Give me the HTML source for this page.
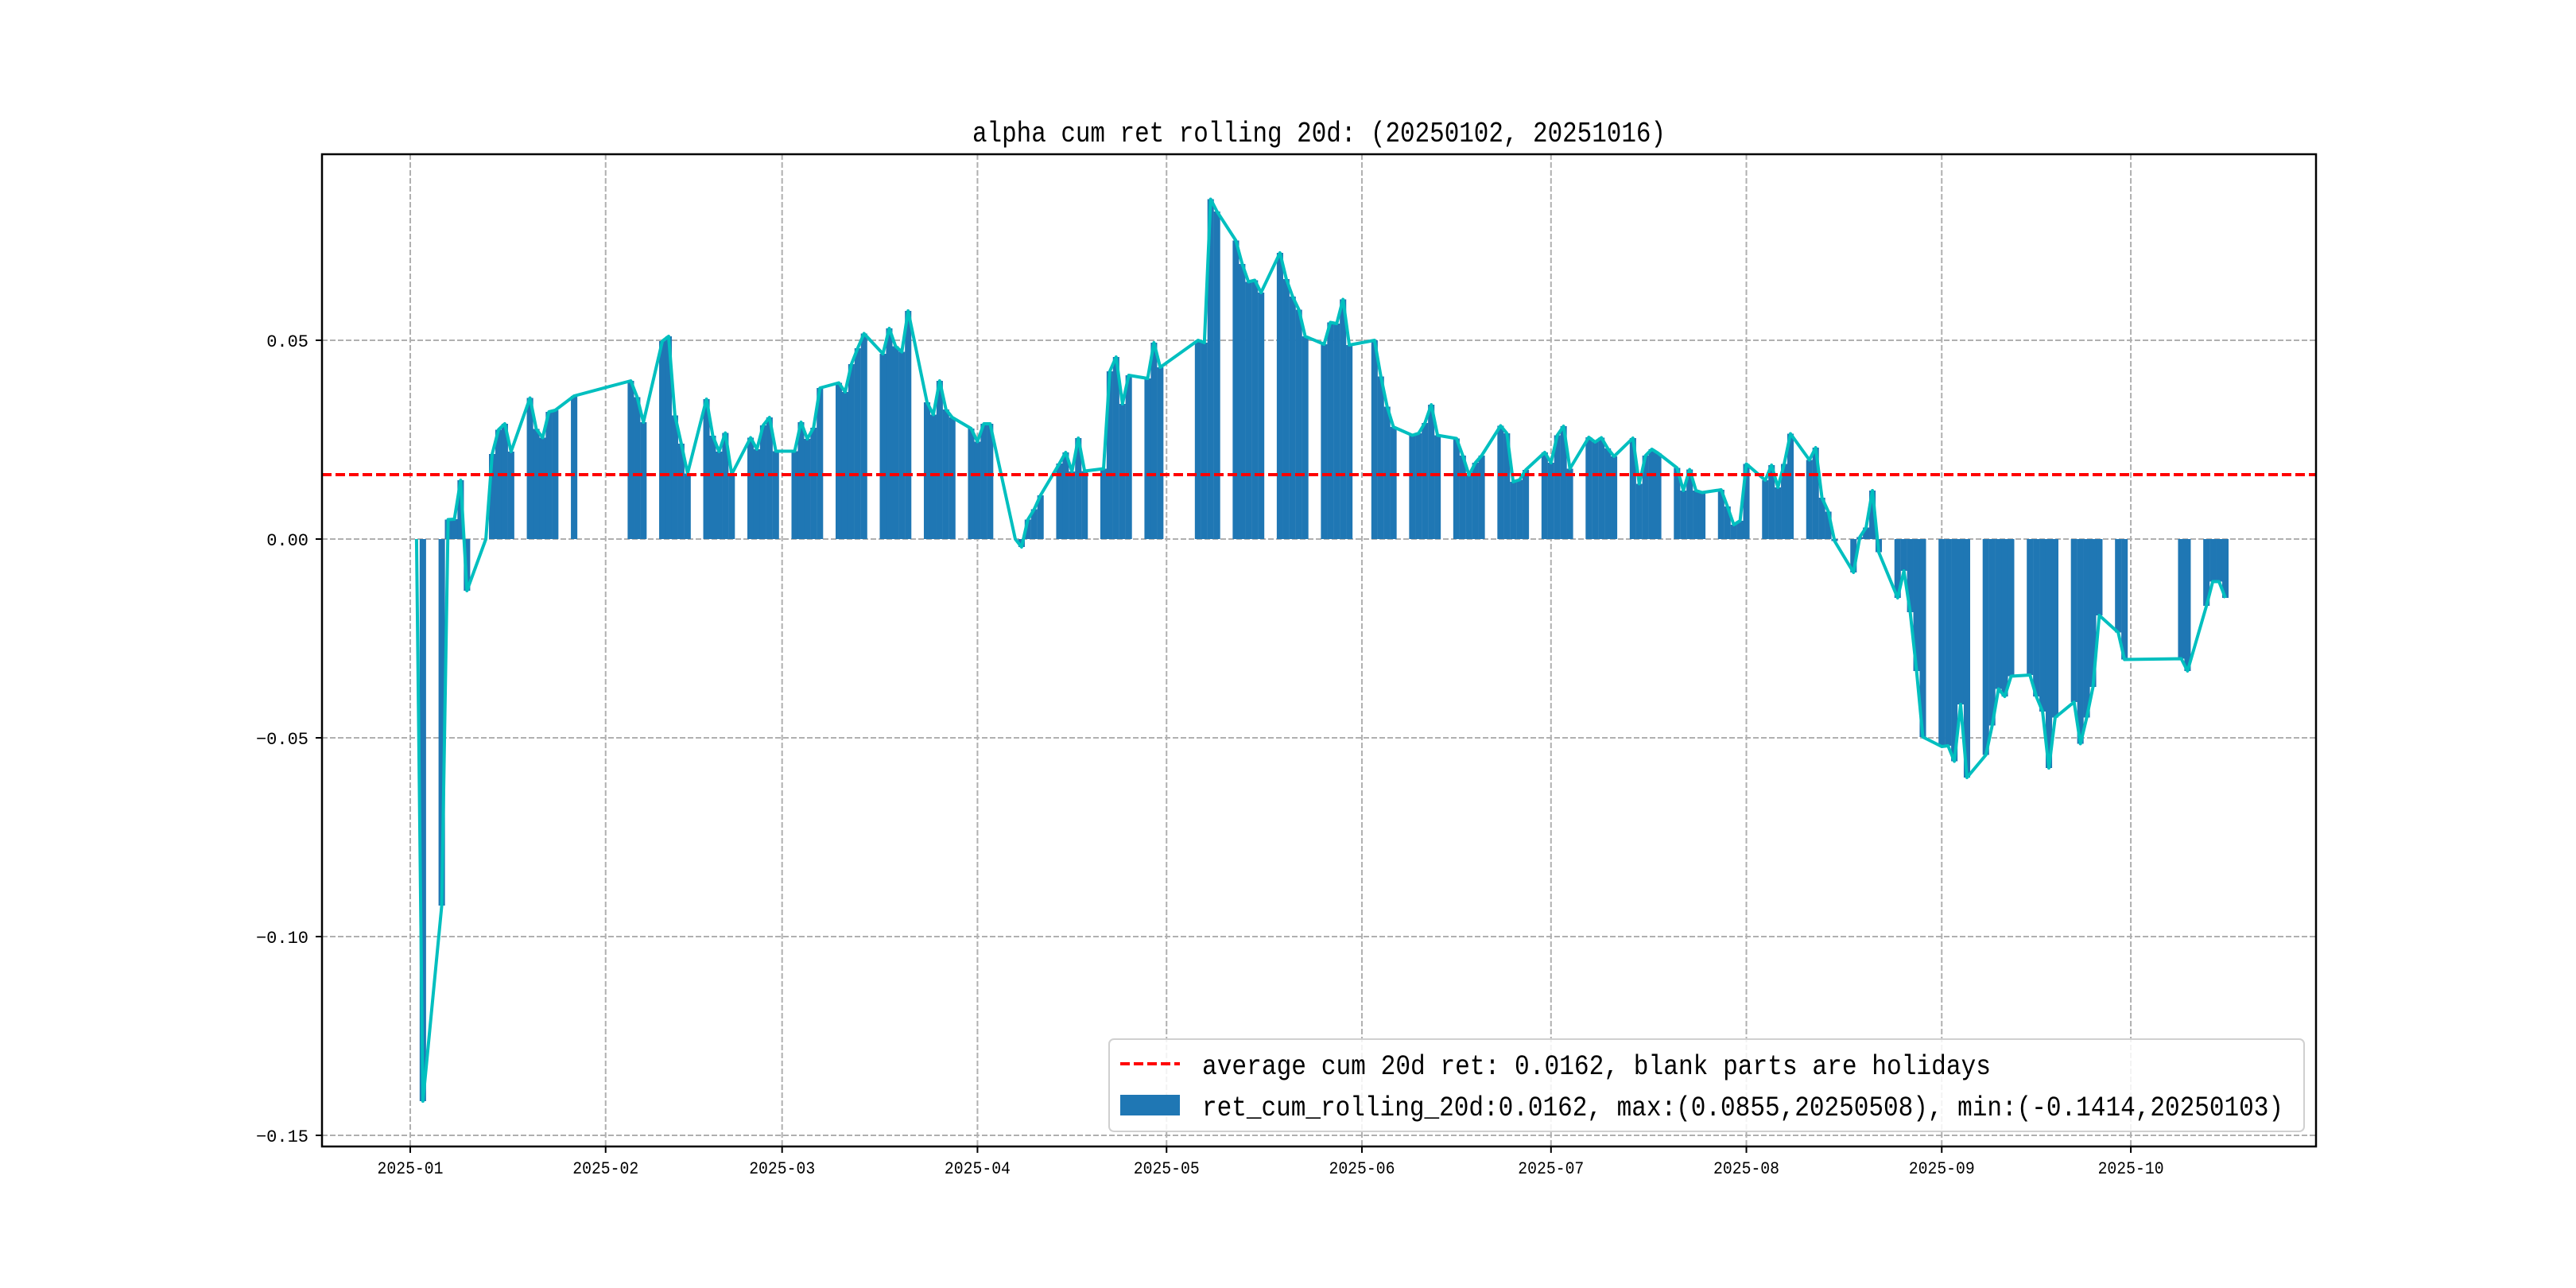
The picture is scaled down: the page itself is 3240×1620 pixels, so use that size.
<!DOCTYPE html>
<html><head><meta charset="utf-8">
<style>
html,body{margin:0;padding:0;background:#fff;}
svg{display:block;}
text{font-family:"Liberation Mono","WenQuanYi Zen Hei",monospace;fill:#000;}
</style></head>
<body>
<svg id="chart" width="3240" height="1620" viewBox="0 0 3240 1620" xmlns="http://www.w3.org/2000/svg">
<rect x="0" y="0" width="3240" height="1620" fill="#fff"/>
<text x="1659" y="178" text-anchor="middle" font-size="36" textLength="872" lengthAdjust="spacingAndGlyphs">alpha cum ret rolling 20d: (20250102, 20251016)</text>
<g id="grid"></g>
<g id="bars"></g>
<g id="lines"></g>
<rect x="405" y="194" width="2508" height="1248" fill="none" stroke="#000" stroke-width="2.5"/>
<g id="ticks"></g>
<g>
<rect x="1395" y="1307" width="1503" height="116" rx="6" fill="#fff" fill-opacity="0.85" stroke="#d0d0d0" stroke-width="2"/>
<line x1="1409" y1="1338" x2="1484" y2="1338" stroke="#ff0000" stroke-width="4" stroke-dasharray="12,5"/>
<text x="1512" y="1351" font-size="35" textLength="992" lengthAdjust="spacingAndGlyphs">average cum 20d ret: 0.0162, blank parts are holidays</text>
<rect x="1409" y="1377" width="75" height="26" fill="#1f77b4"/>
<text x="1512" y="1403" font-size="35" textLength="1360" lengthAdjust="spacingAndGlyphs">ret_cum_rolling_20d:0.0162, max:(0.0855,20250508), min:(-0.1414,20250103)</text>
</g>
</svg>
<script>
const dates = ["01-02","01-03","01-06","01-07","01-08","01-09","01-10","01-13","01-14","01-15","01-16","01-17","01-20","01-21","01-22","01-23","01-24","01-27",
"02-05","02-06","02-07","02-10","02-11","02-12","02-13","02-14","02-17","02-18","02-19","02-20","02-21","02-24","02-25","02-26","02-27","02-28",
"03-03","03-04","03-05","03-06","03-07","03-10","03-11","03-12","03-13","03-14","03-17","03-18","03-19","03-20","03-21","03-24","03-25","03-26","03-27","03-28","03-31",
"04-01","04-02","04-03","04-07","04-08","04-09","04-10","04-11","04-14","04-15","04-16","04-17","04-18","04-21","04-22","04-23","04-24","04-25","04-28","04-29","04-30",
"05-06","05-07","05-08","05-09","05-12","05-13","05-14","05-15","05-16","05-19","05-20","05-21","05-22","05-23","05-26","05-27","05-28","05-29","05-30",
"06-03","06-04","06-05","06-06","06-09","06-10","06-11","06-12","06-13","06-16","06-17","06-18","06-19","06-20","06-23","06-24","06-25","06-26","06-27","06-30",
"07-01","07-02","07-03","07-04","07-07","07-08","07-09","07-10","07-11","07-14","07-15","07-16","07-17","07-18","07-21","07-22","07-23","07-24","07-25","07-28","07-29","07-30","07-31",
"08-01","08-04","08-05","08-06","08-07","08-08","08-11","08-12","08-13","08-14","08-15","08-18","08-19","08-20","08-21","08-22","08-25","08-26","08-27","08-28","08-29",
"09-01","09-02","09-03","09-04","09-05","09-08","09-09","09-10","09-11","09-12","09-15","09-16","09-17","09-18","09-19","09-22","09-23","09-24","09-25","09-26","09-29","09-30",
"10-09","10-10","10-13","10-14","10-15","10-16"];
const values = [0.0,-0.1414,-0.0922,0.0049,0.005,0.0148,-0.0130,0.0,0.0214,0.0275,0.029,0.022,0.0355,0.0277,0.0255,0.032,0.0324,0.036,
0.0398,0.0357,0.0294,0.0498,0.051,0.0311,0.024,0.0165,0.0352,0.026,0.022,0.0267,0.0163,0.0255,0.0226,0.0286,0.0306,0.0221,
0.0221,0.0294,0.0252,0.028,0.038,0.0393,0.037,0.044,0.048,0.0517,0.0466,0.053,0.0485,0.0471,0.0574,0.0344,0.0313,0.0398,0.0326,0.0306,0.0278,
0.0245,0.029,0.029,0.0,-0.002,0.0049,0.0075,0.011,0.019,0.0218,0.017,0.0254,0.0171,0.0177,0.0422,0.0458,0.034,0.0412,0.0404,0.0494,0.0432,
0.050,0.0494,0.0855,0.0824,0.0751,0.0692,0.0647,0.0651,0.062,0.072,0.0654,0.061,0.0577,0.051,0.049,0.0545,0.0542,0.0603,0.0488,
0.050,0.0409,0.0333,0.0282,0.0261,0.0266,0.0292,0.0338,0.0261,0.0253,0.021,0.0161,0.0192,0.021,0.0285,0.0266,0.0144,0.0149,0.0174,0.0218,
0.0192,0.0261,0.0284,0.0177,0.0256,0.0244,0.0255,0.0228,0.0208,0.0254,0.0139,0.021,0.0226,0.0216,0.0179,0.0122,0.0175,0.0122,0.0117,0.0124,0.0082,0.0036,0.0046,
0.0189,0.0148,0.0186,0.013,0.0189,0.0265,0.0199,0.023,0.0104,0.0069,-0.0005,-0.0084,0.0005,0.0029,0.0122,-0.0033,-0.0148,-0.008,-0.0184,-0.0332,-0.0498,
-0.0522,-0.052,-0.0559,-0.0416,-0.06,-0.0543,-0.0469,-0.0377,-0.0396,-0.0345,-0.0342,-0.0396,-0.0434,-0.0576,-0.0449,-0.041,-0.0515,-0.0449,-0.0372,-0.0192,-0.0235,-0.0303,
-0.0301,-0.0332,-0.0168,-0.0107,-0.0107,-0.0148];
const meanValue = 0.0162;
const yTicks = [0.05,0.00,-0.05,-0.10,-0.15];
const yTickLabels = ["0.05","0.00","\u22120.05","\u22120.10","\u22120.15"];
const xTicks = ["01-01","02-01","03-01","04-01","05-01","06-01","07-01","08-01","09-01","10-01"];
const xTickLabels = ["2025-01","2025-02","2025-03","2025-04","2025-05","2025-06","2025-07","2025-08","2025-09","2025-10"];

const NS = "http://www.w3.org/2000/svg";
const PL = 405, PR = 2913, PT = 194, PB = 1442;
const X0 = 516, PXDAY = 7.927, Y0 = 678, PXUNIT = 5000;
function dayOf(md){const [m,d]=md.split("-").map(Number);return (Date.UTC(2025,m-1,d)-Date.UTC(2025,0,1))/86400000;}
function xs(md){return X0 + dayOf(md)*PXDAY;}
function ys(v){return Y0 - v*PXUNIT;}
function mk(tag, attrs, parent){const e=document.createElementNS(NS,tag);for(const k in attrs)e.setAttribute(k,attrs[k]);parent.appendChild(e);return e;}

const grid=document.getElementById("grid"), ticks=document.getElementById("ticks");
yTicks.forEach((v,i)=>{
  const y=ys(v);
  const g=mk("line",{x1:PL,x2:PR,y1:y,y2:y,stroke:"#b0b0b0","stroke-width":2,"stroke-dasharray":"7,3"},grid);
  
  
  const t=mk("line",{x1:PL-8,x2:PL,y1:y,y2:y,stroke:"#000","stroke-width":2},ticks);
  
  
  const l=mk("text",{x:PL-17,y:y+8,"text-anchor":"end","font-size":22},ticks);
  l.textContent=yTickLabels[i];
  
  
});
xTicks.forEach((md,i)=>{
  const x=xs(md);
  const g=mk("line",{x1:x,x2:x,y1:PT,y2:PB,stroke:"#b0b0b0","stroke-width":2,"stroke-dasharray":"7,3"},grid);
  
  
  const t=mk("line",{x1:x,x2:x,y1:PB,y2:PB+8,stroke:"#000","stroke-width":2},ticks);
  
  
  const l=mk("text",{x:x,y:PB+34,"text-anchor":"middle","font-size":22,textLength:83,lengthAdjust:"spacingAndGlyphs"},ticks);
  l.textContent=xTickLabels[i];
  
  
});

const bars=document.getElementById("bars");
const BW = 1.02*PXDAY;
dates.forEach((md,i)=>{
  const x=xs(md), v=values[i];
  const y1=Math.min(ys(v),Y0), h=Math.abs(ys(v)-Y0);
  const r=mk("rect",{x:x-BW/2,y:y1,width:BW,height:Math.max(h,0),fill:"#1f77b4"},bars);
  
  
});

const lines=document.getElementById("lines");
const pts=dates.map((md,i)=>xs(md).toFixed(1)+","+ys(values[i]).toFixed(1)).join(" ");
const pl=mk("polyline",{points:pts,fill:"none",stroke:"#00bfbf","stroke-width":4,"stroke-linejoin":"round"},lines);


const my=ys(meanValue);
const ml=mk("line",{x1:PL,x2:PR,y1:my,y2:my,stroke:"#ff0000","stroke-width":4,"stroke-dasharray":"12,5"},lines);


</script>
</body></html>
